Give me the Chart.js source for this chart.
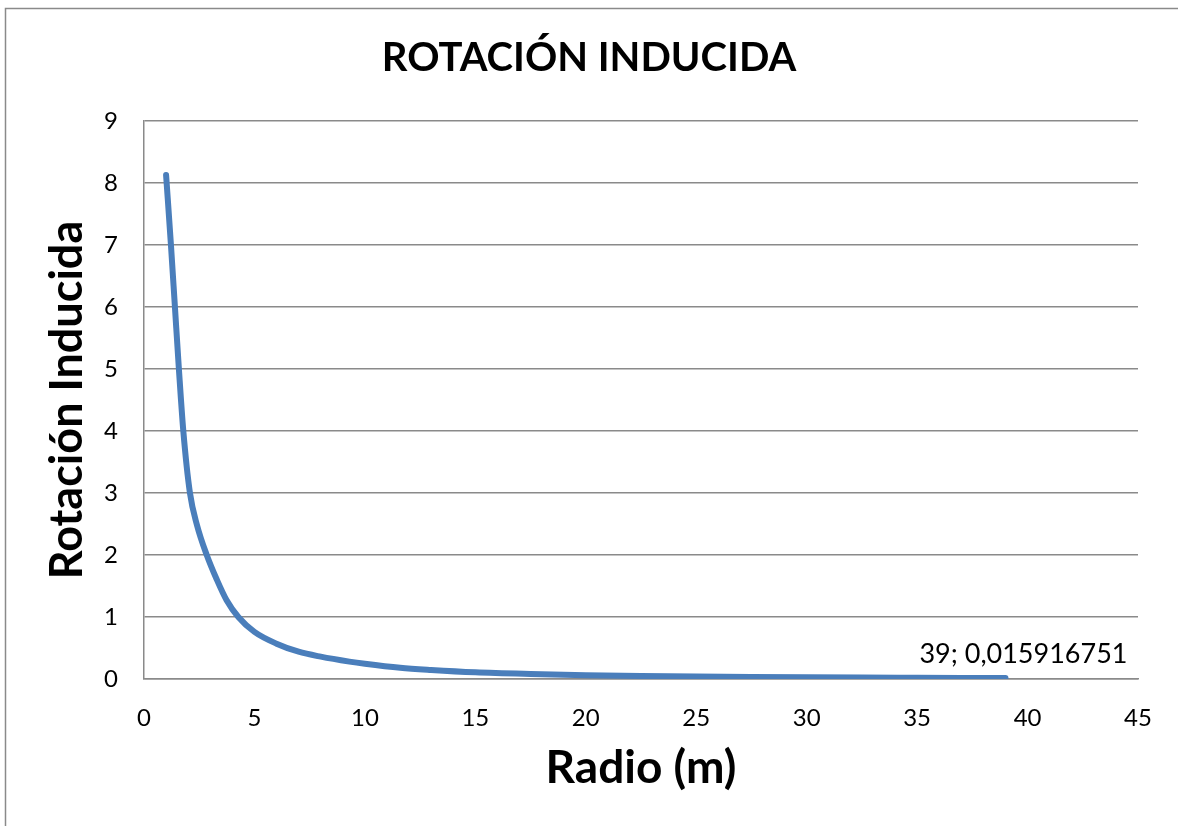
<!DOCTYPE html>
<html>
<head>
<meta charset="utf-8">
<script src="https://cdn.jsdelivr.net/npm/chart.js@4"></script>
<style>
  html, body { margin: 0; padding: 0; background: #fff; }
  #wrap { width: 1178px; height: 826px; }
</style>
</head>
<body>
<div id="wrap"><canvas id="rotChart" width="1178" height="826"></canvas></div>
<script>
// Datos
var radio = [1, 1.22, 1.4, 1.58, 1.78, 2.08, 2.4, 2.84, 3.3, 3.74, 4.27, 5, 6, 7, 8, 9.3, 10, 11.6, 13, 15, 17.5, 20, 22.5, 25, 27.5, 30, 32.5, 35, 37, 39];
var rotacion = [8.13, 7.0, 6.0, 5.0, 4.0, 3.0, 2.48, 2.0, 1.6, 1.27, 1.0, 0.76, 0.57, 0.44, 0.36, 0.28, 0.245, 0.18, 0.145, 0.107, 0.08, 0.061, 0.048, 0.039, 0.032, 0.027, 0.023, 0.0198, 0.0177, 0.015916751];
var xTicks = [0, 45, 5];   // min, max, paso
var yTicks = [0, 9, 1];
var etiquetaFinal = '39; 0,015916751';

var puntos = radio.map(function(r, i) { return {x: r, y: rotacion[i]}; });

// marco exterior del grafico (como en Excel)
var marco = {
    id: 'marco',
    beforeDraw: function(chart) {
        var c = chart.ctx;
        c.save();
        c.fillStyle = '#fff';
        c.fillRect(0, 0, chart.width, chart.height);
        c.strokeStyle = '#8a8a8a';
        c.lineWidth = 1.5;
        c.beginPath();
        c.moveTo(5.5, chart.height);
        c.lineTo(5.5, 8.5);
        c.lineTo(chart.width, 8.5);
        c.stroke();
        c.restore();
    }
};

// etiqueta del ultimo punto
var etiqueta = {
    id: 'etiqueta',
    afterDatasetsDraw: function(chart) {
        var meta = chart.getDatasetMeta(0);
        var p = meta.data[meta.data.length - 1];
        var c = chart.ctx;
        c.save();
        c.font = '27px Lato';
        c.fillStyle = '#000';
        c.textAlign = 'center';
        c.textBaseline = 'middle';
        c.fillText(etiquetaFinal, p.x + 18, p.y - 24);
        c.restore();
    }
};

var ctx = document.getElementById('rotChart').getContext('2d');
var chart = new Chart(ctx, {
    type: 'line',
    data: {
        datasets: [{
            label: 'Rotación Inducida',
            data: puntos,
            borderColor: '#4a7ebb',
            borderWidth: 6,
            borderCapStyle: 'round',
            borderJoinStyle: 'round',
            pointRadius: 0,
            cubicInterpolationMode: 'monotone',
            fill: false
        }]
    },
    options: {
        responsive: false,
        animation: false,
        layout: { padding: { left: 40, right: 40, top: 0, bottom: 0 } },
        plugins: {
            legend: { display: false },
            tooltip: { enabled: false },
            title: {
                display: true,
                text: 'ROTACIÓN INDUCIDA',
                color: '#000',
                font: { family: 'Lato', size: 40, weight: 'bold' },
                padding: { top: 34, bottom: 39 }
            }
        },
        scales: {
            x: {
                type: 'linear',
                min: xTicks[0], max: xTicks[1],
                ticks: { stepSize: xTicks[2], color: '#000', font: { family: 'Lato', size: 24 }, padding: 25 },
                grid: { display: false, drawTicks: false },
                border: { display: true, color: '#8a8a8a', width: 1.5 },
                title: {
                    display: true, text: 'Radio (m)', color: '#000',
                    font: { family: 'Lato', size: 46, weight: 'bold' },
                    padding: { top: 0, bottom: 30 }
                },
                afterFit: function(s) { s.height = 147; }
            },
            y: {
                min: yTicks[0], max: yTicks[1],
                ticks: { stepSize: yTicks[2], color: '#000', font: { family: 'Lato', size: 24 }, padding: 26 },
                grid: { color: '#8a8a8a', lineWidth: 1.5, drawTicks: false },
                border: { display: true, color: '#8a8a8a', width: 1.5 },
                title: {
                    display: true, text: 'Rotación Inducida', color: '#000',
                    font: { family: 'Lato', size: 45, weight: 'bold' },
                    padding: { top: 0, bottom: 0 }
                },
                afterFit: function(s) { s.width = 104; }
            }
        }
    },
    plugins: [marco, etiqueta]
});
</script>
</body>
</html>
